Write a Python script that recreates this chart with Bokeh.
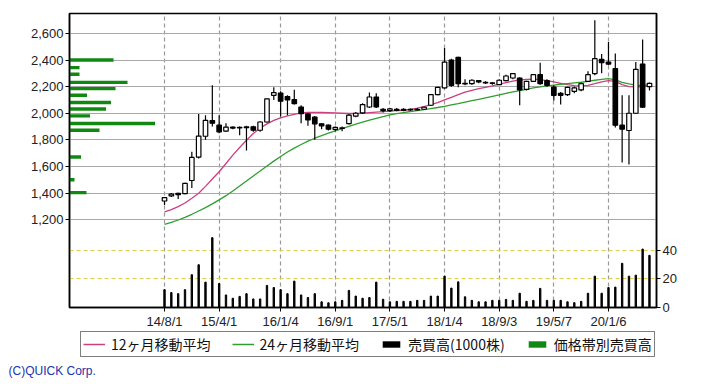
from bokeh.plotting import figure
from bokeh.layouts import column
from bokeh.models import (Range1d, LinearAxis, FixedTicker, NumeralTickFormatter, Grid,
                          Legend, LegendItem, Title, ColumnDataSource)
from bokeh.embed import file_html
from bokeh.resources import INLINE

# ---------------- data ----------------
tick_idx = [0, 8, 17, 25, 33, 41, 49, 57, 65]
tick_labels = ["14/8/1", "15/4/1", "16/1/4", "16/9/1", "17/5/1", "18/1/4", "18/9/3", "19/5/7", "20/1/6"]

opens = [1340, 1378, 1398, 1395, 1494, 1670, 1827, 1945, 1910, 1866, 1895, 1890, 1892, 1898, 1872, 1934,
         2135, 2152, 2125, 2102, 2047, 1995, 1970, 1920, 1910, 1878, 1885, 1922, 1978, 2002, 2047, 2122,
         2030, 2020, 2030, 2022, 2030, 2025, 2030, 2060, 2140, 2190, 2400, 2420, 2225, 2222, 2245, 2232,
         2228, 2215, 2245, 2265, 2265, 2180, 2240, 2290, 2245, 2197, 2150, 2140, 2165, 2175, 2240, 2298,
         2405, 2385, 2335, 1910, 1870, 2000, 2370, 2200]
highs = [1370, 1400, 1402, 1478, 1710, 1995, 1985, 2210, 1985, 1925, 1900, 1900, 1905, 1905, 1940, 2110,
         2195, 2165, 2135, 2177, 2060, 2000, 1980, 1925, 1915, 1900, 1900, 1995, 2010, 2075, 2155, 2150,
         2040, 2040, 2040, 2038, 2035, 2040, 2050, 2145, 2200, 2490, 2410, 2425, 2255, 2255, 2250, 2240,
         2235, 2255, 2290, 2300, 2270, 2245, 2295, 2380, 2255, 2210, 2160, 2200, 2200, 2230, 2315, 2700,
         2445, 2535, 2450, 2135, 2135, 2385, 2555, 2232]
lows = [1310, 1370, 1355, 1390, 1437, 1660, 1800, 1900, 1850, 1860, 1880, 1835, 1720, 1860, 1860, 1930,
        2100, 1975, 1985, 2065, 1925, 1905, 1800, 1880, 1870, 1865, 1865, 1915, 1970, 1995, 2040, 2040,
        2005, 2010, 2015, 2015, 2018, 2020, 2025, 2055, 2135, 2185, 2200, 2195, 2210, 2215, 2225, 2220,
        2215, 2210, 2240, 2255, 2060, 2170, 2235, 2215, 2200, 2095, 2065, 2130, 2150, 2165, 2235, 2285,
        2300, 2360, 1892, 1630, 1615, 1995, 2040, 2170]
closes = [1365, 1392, 1388, 1472, 1668, 1828, 1946, 1925, 1860, 1895, 1888, 1893, 1898, 1872, 1934, 2108,
          2155, 2090, 2100, 2072, 1997, 1950, 1920, 1905, 1880, 1893, 1890, 1985, 2000, 2065, 2122, 2047,
          2020, 2032, 2022, 2030, 2025, 2030, 2045, 2140, 2195, 2385, 2210, 2222, 2220, 2248, 2235, 2228,
          2225, 2248, 2280, 2298, 2175, 2240, 2290, 2222, 2210, 2135, 2135, 2195, 2190, 2222, 2290, 2410,
          2380, 2370, 1910, 1880, 2000, 2330, 2045, 2225]
volume = [12.5, 10.5, 9.7, 12.5, 23, 30, 17.8, 49, 16.8, 8.8, 6.5, 7.8, 9.7, 6, 6, 15.5,
          14, 12.5, 9.7, 18.5, 8.8, 7, 9.7, 4, 3.3, 4, 5, 12, 8, 6.5, 7, 17.8,
          5.8, 4, 4.3, 4.3, 4.3, 5, 5, 8, 8, 22, 13.6, 18, 7.5, 5, 4, 4,
          5, 5, 5.7, 5, 10, 4.3, 5, 13.4, 5, 5, 5, 4, 3.4, 4.3, 10, 22,
          10, 14, 14.3, 31, 22, 22.7, 41, 36.6]
ma12 = [1258, 1275, 1298, 1325, 1360, 1398, 1450, 1505, 1560, 1622, 1685, 1742, 1797, 1847, 1888, 1920,
        1946, 1965, 1980, 1992, 2002, 2006, 2007, 2006, 2004, 2002, 2000, 1998, 1998, 2000, 2004, 2008,
        2012, 2016, 2019, 2022, 2028, 2038, 2050, 2065, 2080, 2100, 2120, 2140, 2158, 2172, 2185, 2195,
        2205, 2218, 2230, 2242, 2250, 2255, 2256, 2252, 2245, 2235, 2225, 2215, 2208, 2205, 2210, 2222,
        2235, 2245, 2240, 2215, 2200, 2198, 2200, 2208]
ma24 = [1165, 1180, 1197, 1217, 1240, 1265, 1290, 1318, 1348, 1380, 1415, 1452, 1490, 1528, 1565, 1603,
        1640, 1675, 1708, 1738, 1765, 1790, 1812, 1832, 1850, 1868, 1885, 1902, 1918, 1933, 1948, 1962,
        1975, 1987, 1997, 2005, 2013, 2020, 2027, 2035, 2043, 2052, 2062, 2072, 2083, 2094, 2105, 2116,
        2127, 2138, 2150, 2160, 2170, 2180, 2190, 2198, 2205, 2212, 2218, 2223, 2228, 2233, 2240, 2248,
        2255, 2260, 2250, 2232, 2220, 2212, 2210, 2212]
band_price = [2400, 2343, 2293, 2232, 2185, 2135, 2080, 2032, 1980, 1922, 1872, 1671, 1500, 1403]
band_volume = [44, 10, 10, 58, 46, 17.5, 41.5, 36.5, 20.5, 85.5, 30, 11.5, 5, 17]
price_ticks = [1200, 1400, 1600, 1800, 2000, 2200, 2400, 2600]
vol_ticks = [0, 20, 40]
legend_labels = ["12ヶ月移動平均", "24ヶ月移動平均", "売買高(1000株)", "価格帯別売買高"]
copyright_text = "(C)QUICK Corp."

# ---------------- build ----------------
n = len(opens)
idx = list(range(n))
up = [c >= o for o, c in zip(opens, closes)]
src = ColumnDataSource(dict(
    x=idx, o=opens, h=highs, l=lows, c=closes, v=volume,
    top=[max(o, c) for o, c in zip(opens, closes)],
    bot=[min(o, c) for o, c in zip(opens, closes)],
    fill=["white" if u else "black" for u in up],
    m12=ma12, m24=ma24))

FONT = "Liberation Sans"
PINK = "#cc3f7f"
GREEN_LINE = "#2f9e2f"
GREEN_BAR = "#118811"

p = figure(frame_width=587, frame_height=294, output_backend="svg", toolbar_location=None,
           x_range=Range1d(-13.91, 72.03), y_range=Range1d(539, 2750),
           min_border_left=69, min_border_right=50, min_border_top=13, min_border_bottom=21)
p.extra_y_ranges = {"vol": Range1d(0, 206.3)}
p.extra_x_ranges = {"band": Range1d(0, 587)}
p.background_fill_color = "white"
p.border_fill_color = "white"
p.outline_line_color = "black"
p.outline_line_width = 1.5

# axes
p.xaxis.ticker = FixedTicker(ticks=tick_idx)
p.xaxis.major_label_overrides = {i: s for i, s in zip(tick_idx, tick_labels)}
p.yaxis.ticker = FixedTicker(ticks=price_ticks)
p.yaxis.formatter = NumeralTickFormatter(format="0,0")
for ax in [p.xaxis[0], p.yaxis[0]]:
    ax.axis_line_color = "black"
    ax.axis_line_width = 1.5
    ax.major_tick_in = 0
    ax.major_tick_out = 4
    ax.minor_tick_line_color = None
    ax.major_label_text_font = FONT
    ax.major_label_text_font_size = "13px"
    ax.major_label_text_color = "#222222"
    ax.major_label_standoff = 2
vax = LinearAxis(y_range_name="vol", ticker=FixedTicker(ticks=vol_ticks),
                 axis_line_color="black", axis_line_width=1.5, major_tick_in=0, major_tick_out=4,
                 minor_tick_line_color=None, major_label_text_font=FONT,
                 major_label_text_font_size="13px", major_label_text_color="#222222",
                 major_label_standoff=2)
p.add_layout(vax, "right")

# grids
p.ygrid.ticker = FixedTicker(ticks=price_ticks)
p.ygrid.grid_line_color = "#a8a8a8"
p.ygrid.grid_line_width = 1.2
p.xgrid.ticker = FixedTicker(ticks=tick_idx)
p.xgrid.grid_line_color = "#999999"
p.xgrid.grid_line_dash = "4 3"
p.xgrid.grid_line_width = 1.2
vgrid = Grid(dimension=1, ticker=FixedTicker(ticks=[20, 40]), y_range_name="vol",
             grid_line_color="#ddd050", grid_line_dash="4 3", grid_line_width=1.2)
p.add_layout(vgrid)

# price band volume (horizontal green bars)
p.hbar(y=band_price, left=0, right=band_volume, height=26, x_range_name="band",
       fill_color=GREEN_BAR, line_color=None)

# volume bars
p.vbar(x="x", top="v", bottom=0, width=0.2, source=src, y_range_name="vol",
       fill_color="black", line_color="black")

# moving averages
p.line("x", "m12", source=src, line_color=PINK, line_width=1.3)
p.line("x", "m24", source=src, line_color=GREEN_LINE, line_width=1.3)

# candles
p.segment(x0="x", y0="l", x1="x", y1="h", source=src, line_color="black", line_width=1.2)
p.vbar(x="x", top="top", bottom="bot", width=0.66, source=src,
       fill_color="fill", line_color="black", line_width=1.2)

# ---------------- legend / footer strip (frame aligned with main plot) ----------------
q = figure(frame_width=587, frame_height=30, output_backend="svg", toolbar_location=None,
           x_range=Range1d(0, 587), y_range=Range1d(0, 30),
           x_axis_type=None, y_axis_type=None,
           min_border_left=69, min_border_right=50, min_border_top=0, min_border_bottom=24)
q.outline_line_color = None
q.background_fill_color = "white"
q.border_fill_color = "white"
q.xgrid.visible = False
q.ygrid.visible = False
# legend proxies: single-point / zero-size glyphs that draw nothing visible themselves
r1 = q.line(x=[0], y=[0], line_color=PINK, line_width=1.5)
r2 = q.line(x=[0], y=[0], line_color=GREEN_LINE, line_width=1.5)
r3 = q.vbar(x=[0], top=[0], bottom=[0], width=0, fill_color="black", line_color=None)
r4 = q.hbar(y=[0], left=[0], right=[0], height=0, fill_color=GREEN_BAR, line_color=None)

legend = Legend(items=[
    LegendItem(label=legend_labels[0], renderers=[r1]),
    LegendItem(label=legend_labels[1], renderers=[r2]),
    LegendItem(label=legend_labels[2], renderers=[r3]),
    LegendItem(label=legend_labels[3], renderers=[r4]),
], orientation="horizontal", location=(11, 4),
    border_line_color="black", border_line_width=1.5, background_fill_color="white",
    background_fill_alpha=1.0,
    label_text_font="Noto Sans CJK JP", label_text_font_size="14px", label_text_color="#111111",
    glyph_width=22, glyph_height=8, label_standoff=6, spacing=21, padding=2, margin=0,
    label_height=13)
q.add_layout(legend)

q.add_layout(Title(text=copyright_text, align="left", offset=-61, text_font=FONT,
                   text_font_size="12px", text_font_style="normal", text_color="#2233aa",
                   standoff=0), "below")

layout = column(p, q, spacing=0)
open("out.html", "w").write(file_html(layout, INLINE))
